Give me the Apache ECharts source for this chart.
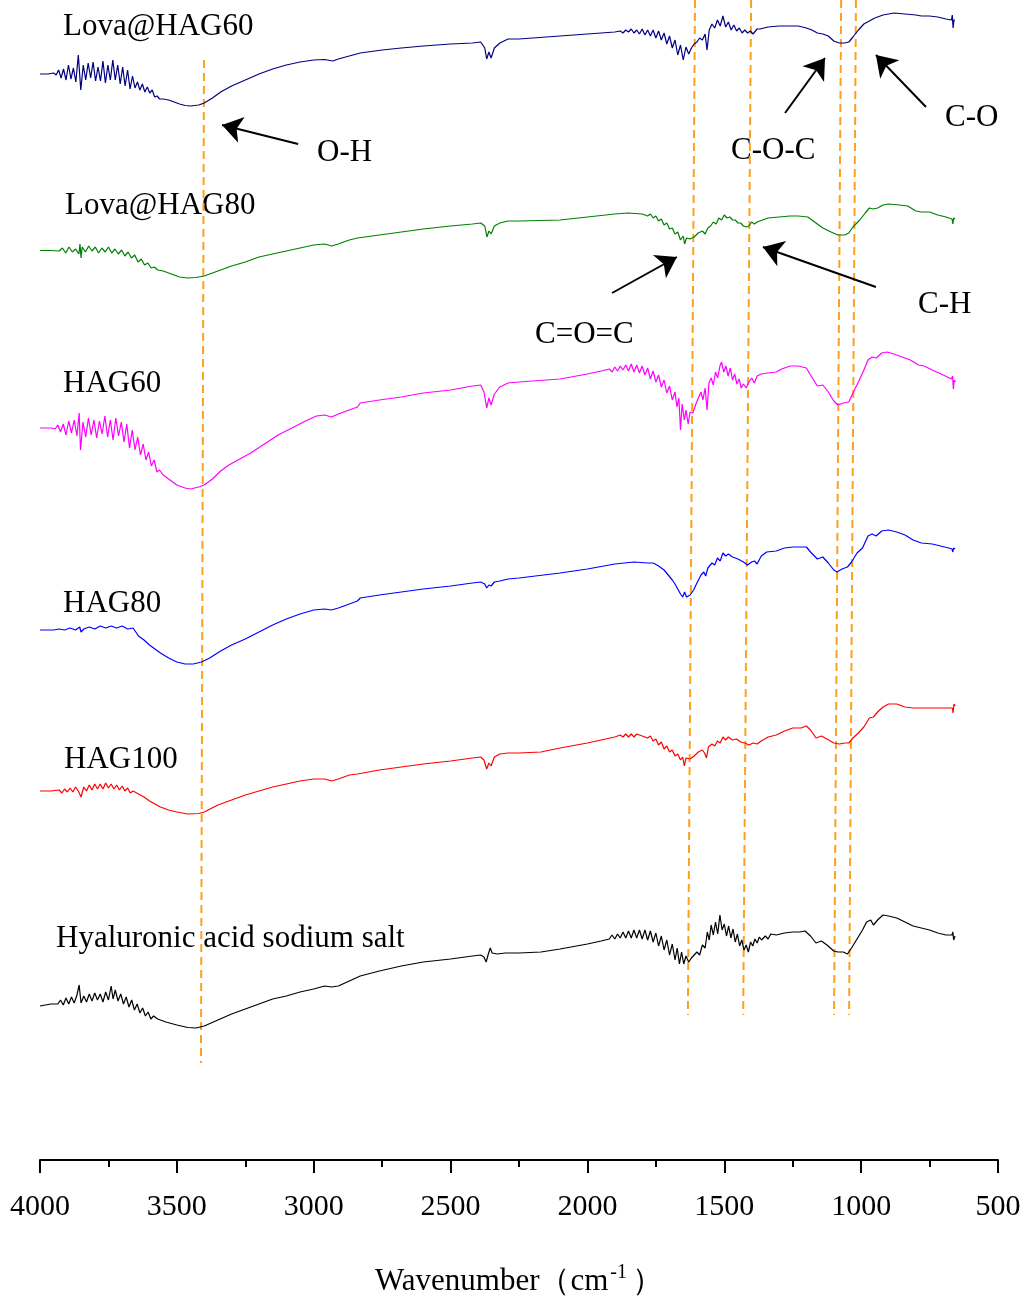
<!DOCTYPE html>
<html><head><meta charset="utf-8">
<script src="https://cdn.jsdelivr.net/npm/echarts@6/dist/echarts.min.js"></script>
<style>html,body{margin:0;padding:0;background:#fff}#c{width:1027px;height:1300px}</style>
</head><body><div id="c"></div>
<script>
// x: wavenumber (cm-1), y: transmittance (a.u., spectra stacked with offsets)
const xTicks = [4000, 3500, 3000, 2500, 2000, 1500, 1000, 500];
const seriesNames = ['Lova@HAG60', 'Lova@HAG80', 'HAG60', 'HAG80', 'HAG100', 'Hyaluronic acid sodium salt'];

const lova60 = [[4000,108.6],[3971,108.6],[3950,108.7],[3941,108.5],[3932,109.0],[3923,108.2],[3914,109.1],[3905,108.0],[3896,109.5],[3887,108.1],[3878,109.2],[3869,107.8],[3860,110.5],[3851,107.0],[3842,109.5],[3833,108.0],[3824,109.7],[3815,108.2],[3806,109.8],[3797,107.9],[3788,109.3],[3779,107.9],[3770,109.9],[3761,107.7],[3752,109.5],[3743,108.0],[3734,110.0],[3725,108.0],[3716,109.5],[3707,107.6],[3698,109.3],[3689,107.4],[3680,109.0],[3671,107.1],[3662,108.4],[3653,107.2],[3644,107.8],[3635,107.0],[3626,107.6],[3617,106.8],[3608,107.3],[3599,106.7],[3590,107.0],[3581,106.3],[3572,106.4],[3563,106.1],[3550,106.1],[3530,106.0],[3510,105.8],[3490,105.6],[3470,105.45],[3450,105.4],[3420,105.5],[3400,105.7],[3370,106.2],[3340,106.8],[3300,107.4],[3250,108.0],[3200,108.6],[3150,109.1],[3100,109.5],[3050,109.8],[3000,110.0],[2960,110.05],[2930,109.9],[2910,110.1],[2870,110.4],[2830,110.7],[2750,111.0],[2680,111.2],[2600,111.4],[2500,111.6],[2420,111.7],[2390,111.8],[2375,111.2],[2368,110.1],[2360,110.8],[2352,110.2],[2340,111.2],[2320,111.7],[2290,112.1],[2250,112.1],[2100,112.4],[2000,112.6],[1950,112.7],[1900,112.8],[1880,112.9],[1870,112.7],[1860,113.0],[1850,112.8],[1840,113.1],[1830,112.7],[1820,113.0],[1810,112.6],[1800,113.1],[1790,112.5],[1780,113.0],[1770,112.4],[1760,113.0],[1750,112.2],[1740,112.9],[1730,112.0],[1720,112.7],[1710,111.6],[1700,112.4],[1690,111.2],[1680,112.0],[1670,110.5],[1660,111.5],[1650,110.0],[1640,111.3],[1630,110.6],[1620,111.2],[1610,111.6],[1600,111.8],[1590,112.2],[1580,112.0],[1570,112.6],[1563,111.0],[1555,113.0],[1545,113.6],[1535,113.2],[1525,114.0],[1515,113.4],[1505,114.4],[1495,113.3],[1485,113.8],[1475,113.0],[1465,113.5],[1455,112.9],[1445,113.2],[1435,112.7],[1425,113.0],[1415,112.7],[1405,112.9],[1395,112.6],[1380,113.1],[1370,113.1],[1340,113.3],[1300,113.4],[1260,113.4],[1230,113.4],[1200,113.2],[1180,113.0],[1160,112.7],[1140,112.6],[1120,112.4],[1100,111.9],[1080,111.7],[1060,111.7],[1045,111.8],[1030,112.3],[1010,113.0],[990,113.6],[970,113.9],[950,114.2],[920,114.5],[880,114.7],[840,114.6],[800,114.5],[780,114.4],[750,114.4],[720,114.3],[690,114.1],[670,114.0],[667,114.5],[664,113.2],[661,114.0],[657,114.0]];

const lova80 = [[4000,90.95],[3960,90.95],[3930,90.9],[3918,91.2],[3906,90.7],[3894,91.3],[3882,90.8],[3870,91.1],[3858,90.6],[3854,91.6],[3850,90.2],[3846,91.3],[3834,90.8],[3822,91.4],[3810,90.9],[3798,91.3],[3786,90.7],[3774,91.2],[3762,90.8],[3750,91.3],[3738,90.7],[3726,91.1],[3714,90.6],[3702,91.0],[3690,90.4],[3678,90.8],[3666,90.2],[3654,90.5],[3642,89.8],[3630,90.1],[3618,89.5],[3606,89.7],[3594,89.2],[3582,89.3],[3570,89.0],[3550,88.9],[3520,88.6],[3490,88.3],[3460,88.2],[3430,88.25],[3400,88.4],[3350,88.9],[3300,89.4],[3250,89.8],[3200,90.3],[3150,90.6],[3100,90.9],[3050,91.2],[3000,91.5],[2960,91.6],[2935,91.4],[2910,91.6],[2870,92.0],[2840,92.2],[2760,92.5],[2680,92.8],[2600,93.1],[2500,93.4],[2420,93.6],[2390,93.7],[2375,93.4],[2367,92.3],[2360,92.9],[2352,92.6],[2340,93.4],[2320,93.7],[2290,93.9],[2250,93.9],[2100,94.0],[2000,94.3],[1900,94.6],[1850,94.7],[1800,94.6],[1780,94.4],[1770,94.6],[1760,94.2],[1750,94.4],[1740,93.9],[1730,94.1],[1720,93.5],[1710,93.7],[1700,93.1],[1690,93.2],[1680,92.6],[1670,92.8],[1660,92.0],[1650,92.4],[1645,91.6],[1638,92.2],[1625,92.1],[1610,92.3],[1595,92.7],[1580,92.9],[1570,92.6],[1560,93.2],[1550,93.4],[1540,93.8],[1530,93.6],[1520,94.2],[1510,94.0],[1500,94.5],[1490,94.2],[1480,94.3],[1470,94.0],[1460,94.0],[1450,93.7],[1440,93.7],[1430,93.4],[1420,93.3],[1410,93.4],[1400,93.8],[1390,93.6],[1380,93.8],[1360,94.0],[1340,94.2],[1300,94.3],[1260,94.4],[1230,94.4],[1195,94.3],[1170,93.8],[1140,93.2],[1110,92.8],[1085,92.5],[1060,92.5],[1045,92.7],[1030,93.3],[1005,94.0],[985,94.7],[970,95.2],[955,95.1],[940,95.2],[920,95.5],[900,95.6],[860,95.5],[830,95.4],[800,94.9],[780,94.8],[750,94.8],[720,94.5],[690,94.3],[668,94.1],[665,93.6],[662,94.2],[657,94.1]];

const hag60 = [[4000,73.2],[3960,73.2],[3945,73.1],[3935,73.5],[3925,72.8],[3915,73.6],[3905,72.5],[3895,73.9],[3885,72.7],[3875,74.0],[3865,72.4],[3857,74.7],[3852,71.0],[3843,73.8],[3833,72.3],[3823,74.2],[3813,72.5],[3803,74.0],[3793,72.2],[3783,73.9],[3773,72.6],[3763,74.4],[3753,72.3],[3743,74.0],[3733,72.0],[3723,74.2],[3713,72.4],[3703,73.8],[3693,71.8],[3683,73.6],[3673,71.2],[3663,73.0],[3653,71.0],[3643,72.3],[3633,70.5],[3623,71.6],[3613,70.0],[3603,70.8],[3593,69.4],[3583,70.0],[3573,68.8],[3563,69.0],[3550,68.5],[3530,68.1],[3500,67.5],[3470,67.2],[3450,67.1],[3420,67.3],[3400,67.5],[3370,68.1],[3340,68.9],[3310,69.5],[3270,70.1],[3230,70.7],[3180,71.6],[3130,72.5],[3080,73.2],[3030,73.9],[2990,74.4],[2960,74.5],[2935,74.3],[2910,74.6],[2870,75.0],[2840,75.3],[2830,75.7],[2760,76.0],[2680,76.3],[2600,76.7],[2500,77.0],[2420,77.4],[2390,77.5],[2378,76.8],[2368,75.2],[2360,76.2],[2352,75.5],[2340,76.6],[2320,77.3],[2290,77.7],[2250,77.8],[2100,78.1],[2000,78.6],[1950,78.9],[1920,79.1],[1910,78.8],[1900,79.3],[1890,78.9],[1880,79.4],[1870,79.0],[1860,79.5],[1850,78.9],[1840,79.6],[1830,78.8],[1820,79.5],[1810,78.7],[1800,79.4],[1790,78.5],[1780,79.2],[1770,78.1],[1760,78.9],[1750,77.8],[1740,78.5],[1730,77.3],[1720,78.0],[1710,76.7],[1700,77.4],[1690,76.0],[1680,76.8],[1673,75.3],[1666,76.2],[1660,73.0],[1654,75.6],[1646,74.0],[1640,75.0],[1632,73.6],[1625,74.8],[1615,74.7],[1605,75.5],[1595,76.2],[1585,76.8],[1578,76.0],[1570,77.2],[1563,75.0],[1556,77.7],[1548,78.2],[1540,77.5],[1532,78.8],[1524,78.2],[1516,79.4],[1510,79.8],[1502,78.8],[1494,79.4],[1486,78.4],[1478,79.2],[1470,78.0],[1462,78.6],[1454,77.6],[1446,78.1],[1438,77.2],[1430,77.6],[1420,77.2],[1410,77.8],[1400,78.2],[1390,77.7],[1380,78.4],[1365,78.6],[1340,78.7],[1310,78.8],[1290,79.1],[1260,79.4],[1230,79.4],[1200,79.2],[1185,78.5],[1160,77.4],[1140,77.5],[1120,76.8],[1100,75.9],[1085,75.5],[1065,75.7],[1045,75.8],[1030,76.7],[1010,77.8],[990,79.0],[975,80.0],[960,80.3],[945,80.2],[925,80.7],[905,80.8],[880,80.6],[850,80.3],[820,80.0],[790,79.5],[770,79.4],[740,79.0],[700,78.5],[670,78.1],[666,78.4],[663,77.1],[660,78.0],[655,77.8]];

const hag80 = [[4000,53.0],[3950,53.0],[3930,53.1],[3910,53.0],[3890,53.2],[3870,53.0],[3855,53.3],[3850,52.8],[3840,53.1],[3820,53.3],[3800,53.1],[3780,53.4],[3760,53.2],[3740,53.4],[3720,53.2],[3700,53.4],[3680,53.1],[3660,53.2],[3640,52.4],[3620,52.0],[3600,51.5],[3580,51.1],[3560,50.7],[3530,50.2],[3500,49.8],[3470,49.6],[3440,49.6],[3410,49.8],[3380,50.2],[3340,50.9],[3300,51.5],[3250,52.1],[3200,52.8],[3150,53.5],[3100,54.1],[3050,54.6],[3000,55.0],[2960,55.1],[2935,55.0],[2910,55.2],[2870,55.6],[2840,55.9],[2830,56.2],[2760,56.5],[2680,56.8],[2600,57.1],[2500,57.4],[2420,57.7],[2390,57.8],[2375,57.6],[2368,57.2],[2360,57.5],[2352,57.4],[2340,57.8],[2320,57.9],[2290,58.1],[2250,58.2],[2100,58.7],[2000,59.1],[1900,59.6],[1830,59.8],[1780,59.7],[1760,59.7],[1740,59.4],[1720,59.0],[1705,58.5],[1690,58.0],[1680,57.6],[1670,57.1],[1660,56.6],[1652,56.3],[1645,56.8],[1638,56.3],[1625,56.5],[1612,57.0],[1600,57.7],[1585,58.5],[1575,58.8],[1568,58.4],[1560,59.2],[1545,59.7],[1535,59.5],[1525,60.2],[1515,59.9],[1505,60.7],[1495,60.4],[1485,60.6],[1470,60.3],[1450,60.1],[1430,59.8],[1415,59.5],[1400,59.8],[1390,59.9],[1380,59.6],[1365,60.4],[1345,60.8],[1310,60.9],[1280,61.2],[1250,61.3],[1200,61.3],[1185,60.8],[1160,60.1],[1140,60.3],[1120,59.7],[1100,59.0],[1088,58.8],[1070,59.1],[1050,59.3],[1035,59.8],[1015,60.7],[995,61.2],[975,62.4],[960,62.6],[945,62.4],[925,62.9],[900,63.0],[870,62.8],[840,62.5],[810,62.0],[780,61.7],[740,61.6],[710,61.4],[680,61.2],[668,61.1],[665,60.8],[662,61.2],[657,61.1]];

const hag100 = [[4000,36.9],[3960,36.9],[3930,37.0],[3920,36.7],[3910,37.1],[3900,36.8],[3890,37.2],[3880,36.8],[3870,37.3],[3860,36.9],[3850,36.3],[3840,37.3],[3830,36.9],[3820,37.5],[3810,37.0],[3800,37.6],[3790,37.1],[3780,37.6],[3770,37.1],[3760,37.7],[3750,37.2],[3740,37.6],[3730,37.1],[3720,37.5],[3710,37.0],[3700,37.4],[3690,36.9],[3680,37.2],[3670,36.7],[3660,36.9],[3640,36.6],[3620,36.3],[3600,35.9],[3580,35.6],[3560,35.3],[3530,35.0],[3500,34.8],[3460,34.6],[3420,34.65],[3400,34.8],[3350,35.5],[3300,36.0],[3250,36.5],[3200,36.9],[3150,37.3],[3100,37.6],[3050,37.9],[3000,38.1],[2960,38.1],[2935,37.9],[2910,38.1],[2870,38.5],[2840,38.6],[2760,39.0],[2680,39.3],[2600,39.6],[2500,39.9],[2420,40.2],[2390,40.3],[2378,40.0],[2368,39.1],[2360,39.7],[2352,39.4],[2340,40.3],[2320,40.6],[2290,40.7],[2250,40.7],[2170,40.8],[2100,41.2],[2000,41.7],[1900,42.3],[1880,42.5],[1870,42.3],[1860,42.6],[1850,42.3],[1840,42.6],[1830,42.3],[1820,42.6],[1800,42.4],[1780,42.2],[1770,42.4],[1760,41.9],[1750,42.1],[1740,41.5],[1730,41.8],[1720,41.1],[1710,41.4],[1700,40.8],[1690,41.0],[1680,40.4],[1670,40.6],[1660,40.0],[1652,40.3],[1646,39.4],[1640,40.2],[1625,40.1],[1610,40.4],[1595,40.8],[1580,41.0],[1572,40.7],[1565,40.2],[1558,41.3],[1545,41.6],[1535,41.4],[1525,41.9],[1515,41.7],[1505,42.3],[1495,42.0],[1485,42.3],[1470,42.0],[1455,42.1],[1440,41.8],[1425,41.7],[1410,41.5],[1395,41.7],[1380,41.6],[1365,41.9],[1340,42.3],[1310,42.5],[1280,42.9],[1250,43.2],[1220,43.2],[1200,43.4],[1185,43.0],[1165,42.2],[1145,42.4],[1125,42.1],[1100,41.7],[1080,41.6],[1060,41.7],[1045,41.7],[1030,42.2],[1010,42.7],[990,43.3],[970,44.2],[955,44.3],[940,44.8],[920,45.3],[900,45.6],[870,45.6],[840,45.3],[810,45.2],[770,45.2],[720,45.2],[680,45.2],[667,45.2],[664,44.7],[661,45.6],[656,45.4]];

const hyaluronic = [[4000,15.4],[3960,15.6],[3935,15.6],[3925,16.0],[3915,15.5],[3905,16.2],[3895,15.6],[3885,16.3],[3875,15.7],[3865,16.5],[3857,17.5],[3850,15.7],[3840,16.4],[3830,15.8],[3820,16.6],[3810,15.9],[3800,16.7],[3790,16.0],[3780,16.6],[3770,15.8],[3760,16.8],[3750,16.0],[3740,17.4],[3733,16.1],[3725,17.0],[3715,15.9],[3705,16.6],[3695,15.6],[3685,16.3],[3675,15.3],[3665,16.0],[3655,15.0],[3645,15.6],[3635,14.7],[3625,15.2],[3615,14.4],[3605,14.8],[3595,14.1],[3585,14.4],[3570,14.1],[3540,13.8],[3500,13.5],[3460,13.25],[3430,13.2],[3400,13.4],[3350,14.0],[3300,14.6],[3250,15.1],[3200,15.6],[3150,16.1],[3100,16.4],[3050,16.8],[3000,17.1],[2960,17.4],[2935,17.3],[2910,17.4],[2870,17.9],[2830,18.4],[2760,18.9],[2680,19.4],[2600,19.8],[2500,20.1],[2420,20.4],[2390,20.5],[2378,20.3],[2370,19.8],[2362,20.6],[2355,21.2],[2348,20.7],[2330,20.6],[2300,20.7],[2250,20.7],[2170,20.8],[2100,21.1],[2000,21.6],[1950,21.9],[1920,22.1],[1910,22.5],[1900,22.1],[1890,22.6],[1880,22.2],[1870,22.8],[1860,22.2],[1850,22.9],[1840,22.2],[1830,23.0],[1820,22.2],[1810,23.0],[1800,22.1],[1790,23.0],[1780,22.0],[1770,22.9],[1760,21.8],[1750,22.7],[1740,21.4],[1730,22.4],[1720,21.0],[1710,22.0],[1700,20.5],[1690,21.6],[1680,20.0],[1672,21.2],[1664,19.6],[1656,20.8],[1648,19.6],[1640,20.4],[1630,19.8],[1620,20.2],[1610,20.5],[1600,20.8],[1590,20.5],[1580,21.5],[1570,21.2],[1562,22.8],[1555,22.0],[1548,23.5],[1540,22.5],[1532,23.8],[1524,22.6],[1516,24.5],[1508,23.0],[1500,23.6],[1492,22.4],[1484,23.4],[1476,22.2],[1468,23.1],[1460,21.8],[1452,22.6],[1444,21.4],[1436,22.0],[1428,21.0],[1420,21.5],[1412,20.8],[1404,21.8],[1396,21.4],[1388,22.1],[1380,21.7],[1372,22.3],[1364,22.0],[1350,22.4],[1340,22.1],[1330,22.6],[1310,22.5],[1280,22.7],[1250,22.8],[1225,22.8],[1205,22.9],[1185,22.4],[1165,21.7],[1145,21.9],[1125,21.5],[1100,20.9],[1085,20.8],[1065,20.8],[1050,20.6],[1035,21.2],[1015,22.1],[995,23.0],[980,23.8],[965,24.0],[955,23.5],[940,24.0],[920,24.5],[900,24.4],[870,24.2],[840,23.8],[810,23.4],[780,23.2],[750,23.0],[720,22.7],[690,22.5],[668,22.5],[665,22.8],[662,22.0],[657,22.4]];

// band guide lines (wavenumber at top / bottom ends) and assignments
const bandNames = ['O-H', 'C=O=C', 'C-H', 'C-O-C', 'C-O'];
const bandLines = [
  [[3401,110.0],[3412,9.7]],
  [[1607,116.0],[1633,14.5]],
  [[1402,116.0],[1431,14.5]],
  [[1073,116.0],[1099,14.5]],
  [[1019,116.0],[1044,14.5]]
];
// arrows: [tail, head]
const arrows = [
  [[3057,101.6],[3335,103.5]],
  [[1910,86.7],[1673,90.3]],
  [[946,87.3],[1359,91.3]],
  [[1278,104.7],[1132,110.2]],
  [[763,105.3],[946,110.5]]
];

const colors = ['#000080','#008000','#FF00FF','#0000FF','#FF0000','#000000'];
const spectra = [lova60, lova80, hag60, hag80, hag100, hyaluronic];

const FONT = '"Liberation Serif", "Times New Roman", serif';
const chart = echarts.init(document.getElementById('c'), null, {renderer: 'canvas'});

const series = [];
bandLines.forEach((d, i) => series.push({
  type: 'line', name: 'band-' + bandNames[i], data: d, symbol: 'none', silent: true, z: 1,
  lineStyle: {color: '#FF9F1C', width: 2, type: [8, 5]}
}));
spectra.forEach((d, i) => series.push({
  type: 'line', name: seriesNames[i], data: d, symbol: 'none', silent: true, z: 3,
  lineStyle: {color: colors[i], width: 1.2}
}));
series.push({
  type: 'lines', coordinateSystem: 'cartesian2d', silent: true, z: 4,
  symbol: ['none', 'arrow'], symbolSize: [15, 20],
  lineStyle: {color: '#000', width: 2, opacity: 1, curveness: 0},
  data: arrows.map(a => ({coords: a}))
});

const txt = (s, x, y) => ({type: 'text', left: x, top: y - 13, style: {text: s, font: '31px ' + FONT, fill: '#000'}});

chart.setOption({
  animation: false,
  backgroundColor: '#fff',
  grid: {left: 40, right: 29, top: 0, bottom: 140, containLabel: false, outerBoundsMode: 'none'},
  xAxis: {
    type: 'value', inverse: true, min: 500, max: 4000, interval: 500,
    axisLine: {show: true, lineStyle: {color: '#000', width: 2}},
    axisTick: {show: true, length: 13, lineStyle: {color: '#000', width: 2}},
    minorTick: {show: true, splitNumber: 2, length: 7, lineStyle: {color: '#000', width: 2}},
    splitLine: {show: false},
    axisLabel: {color: '#000', fontFamily: FONT, fontSize: 30, margin: 32,
      formatter: v => xTicks.indexOf(v) >= 0 ? String(v) : ''},
    name: '{a|Wavenumber（cm}{s|-1}{a|）}',
    nameLocation: 'middle', nameGap: 103,
    nameTextStyle: {rich: {
      a: {fontFamily: FONT, fontSize: 31, color: '#000'},
      s: {fontFamily: FONT, fontSize: 20, color: '#000', verticalAlign: 'top', padding: [0, 5, 18, 2]}
    }}
  },
  yAxis: {type: 'value', min: 0, max: 116, show: false},
  series: series,
  graphic: [
    txt('Lova@HAG60', 63, 24),
    txt('Lova@HAG80', 65, 203),
    txt('HAG60', 63, 381),
    txt('HAG80', 63, 601),
    txt('HAG100', 64, 757),
    txt('Hyaluronic acid sodium salt', 56, 936),
    txt('O-H', 317, 150),
    txt('C-O-C', 731, 148),
    txt('C-O', 945, 115),
    txt('C=O=C', 535, 332),
    txt('C-H', 918, 302)
  ]
});
</script></body></html>
